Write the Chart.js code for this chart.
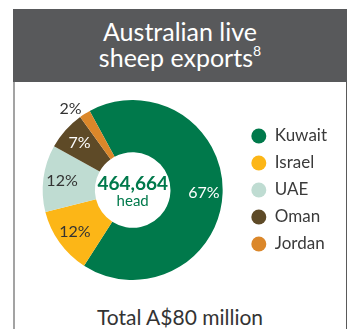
<!DOCTYPE html>
<html>
<head>
<meta charset="utf-8">
<script src="https://cdn.jsdelivr.net/npm/chart.js@4"></script>
<style>
  html, body { margin: 0; padding: 0; background: #fff; }
  body { width: 350px; height: 329px; position: relative; overflow: hidden; font-family: Lato, "Noto Sans", sans-serif; }
  .panel {
    position: absolute; left: 13px; top: 9px; width: 331px; height: 330px;
    border-left: 2px solid #a3a3a3; border-right: 1px solid #5a5a5a;
  }
  .panel-head {
    position: absolute; left: 13px; top: 9px; width: 334px; height: 73px;
    background: #58595b; color: #fff; text-align: center;
    font-size: 25px; line-height: 26px; padding-top: 9px; box-sizing: border-box;
  }
  .panel-head sup { font-size: 14px; line-height: 0; vertical-align: 11px; }
  .chart-wrap { position: absolute; left: 15px; top: 100px; width: 331px; height: 180px; }
  .total {
    position: absolute; left: 13px; width: 334px; top: 304px;
    text-align: center; font-size: 21px; color: #333;
  }
</style>
</head>
<body>
<div class="panel"></div>
<div class="panel-head">Australian live<br>sheep exports<sup>8</sup></div>
<div class="chart-wrap"><canvas id="sheepChart"></canvas></div>
<div class="total">Total A$80 million</div>

<script>
const countries = ['Kuwait', 'Israel', 'UAE', 'Oman', 'Jordan'];
const sharePct = [67, 12, 12, 7, 2];
const totalHead = '464,664';

const sliceColors = ['#00794b', '#fcb617', '#bfdcd2', '#5e4a27', '#db872a'];
const labelColors = ['#ffffff', '#333333', '#333333', '#ffffff', '#333333'];

// percentage labels on each slice, small ones pushed outside the ring
const sliceLabels = {
  id: 'sliceLabels',
  afterDatasetsDraw(chart) {
    const ctx = chart.ctx;
    const meta = chart.getDatasetMeta(0);
    ctx.save();
    ctx.font = '16px Lato, "Noto Sans", sans-serif';
    ctx.textBaseline = 'middle';
    meta.data.forEach((arc, i) => {
      const p = arc.getProps(['x', 'y', 'startAngle', 'endAngle', 'innerRadius', 'outerRadius'], true);
      const mid = (p.startAngle + p.endAngle) / 2;
      const value = chart.data.datasets[0].data[i];
      let r, align;
      if (value < 5) {
        r = p.outerRadius + 6;
        align = 'right';
      } else {
        r = p.innerRadius + (p.outerRadius - p.innerRadius) * 0.64;
        align = 'center';
      }
      ctx.textAlign = align;
      ctx.fillStyle = labelColors[i];
      ctx.fillText(value + '%', p.x + Math.cos(mid) * r, p.y + Math.sin(mid) * r);
    });
    ctx.restore();
  }
};

// head count in the hole
const centreText = {
  id: 'centreText',
  afterDraw(chart) {
    const arc = chart.getDatasetMeta(0).data[0];
    if (!arc) return;
    const ctx = chart.ctx;
    ctx.save();
    ctx.fillStyle = '#00794b';
    ctx.textAlign = 'center';
    ctx.textBaseline = 'middle';
    ctx.font = 'bold 19px Lato, "Noto Sans", sans-serif';
    ctx.fillText(totalHead, arc.x, arc.y - 6);
    ctx.font = '15px Lato, "Noto Sans", sans-serif';
    ctx.fillText('head', arc.x, arc.y + 11);
    ctx.restore();
  }
};

new Chart(document.getElementById('sheepChart'), {
  type: 'doughnut',
  data: {
    labels: countries,
    datasets: [{
      data: sharePct,
      backgroundColor: sliceColors,
      borderWidth: 0
    }]
  },
  options: {
    responsive: true,
    maintainAspectRatio: false,
    animation: false,
    cutout: '42%',
    rotation: -28.5,
    layout: { padding: { left: 9, right: 9 } },
    plugins: {
      tooltip: { enabled: false },
      legend: {
        position: 'right',
        labels: {
          usePointStyle: true,
          pointStyle: 'circle',
          pointStyleWidth: 15,
          boxHeight: 10.6,
          padding: 10,
          color: '#3a3a3a',
          font: { family: 'Lato, "Noto Sans", sans-serif', size: 17 }
        }
      }
    }
  },
  plugins: [sliceLabels, centreText]
});
</script>
</body>
</html>
